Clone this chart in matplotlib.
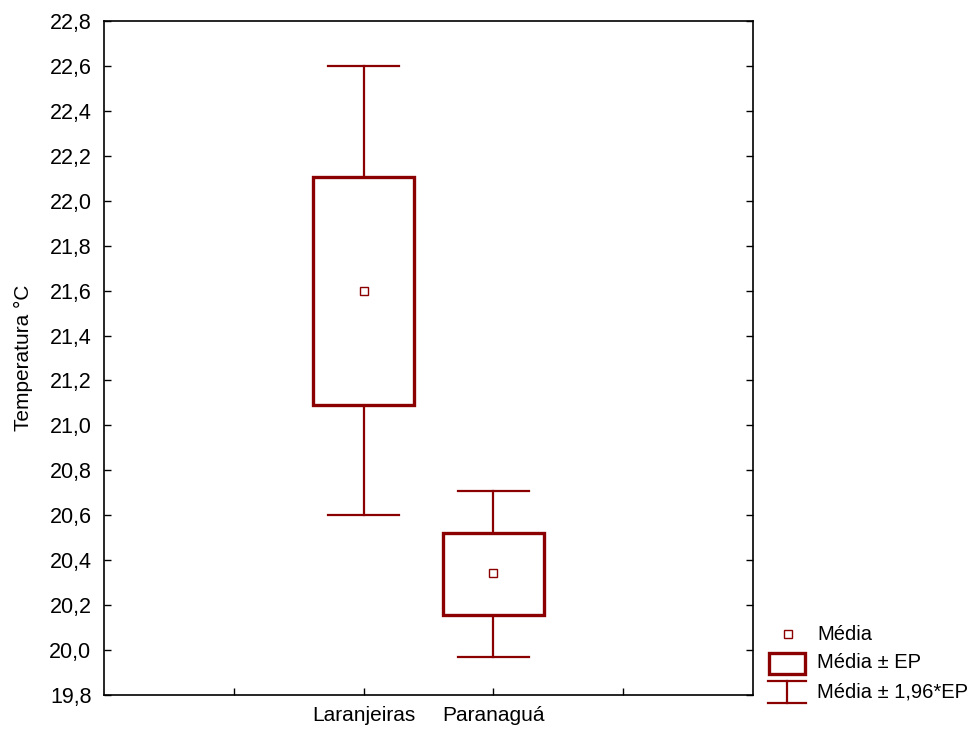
import matplotlib.pyplot as plt
from matplotlib.patches import Rectangle

plt.rcParams['font.family'] = ['Liberation Sans', 'DejaVu Sans']

# data
categories = ['Laranjeiras', 'Paranaguá']
means = [21.60, 20.343]
ep_low = [21.092, 20.156]
ep_high = [22.105, 20.522]
ci_low = [20.600, 19.970]
ci_high = [22.600, 20.710]

red = '#8B0000'

fig = plt.figure(figsize=(9.75, 7.31), dpi=100)
fig.patch.set_facecolor('white')
ax = fig.add_axes([104/975, 36/731, 649/975, 674/731])

positions = [1, 2]
box_w = 0.78
cap_w = 0.55
for x, m, lo, hi, clo, chi in zip(positions, means, ep_low, ep_high, ci_low, ci_high):
    # whiskers
    ax.plot([x, x], [hi, chi], color=red, lw=1.6, zorder=2)
    ax.plot([x, x], [clo, lo], color=red, lw=1.6, zorder=2)
    ax.plot([x - cap_w/2, x + cap_w/2], [chi, chi], color=red, lw=1.6, zorder=2)
    ax.plot([x - cap_w/2, x + cap_w/2], [clo, clo], color=red, lw=1.6, zorder=2)
    # box
    ax.add_patch(Rectangle((x - box_w/2, lo), box_w, hi - lo, facecolor='white',
                           edgecolor=red, lw=2.4, zorder=3))
    # mean
    ax.plot(x, m, marker='s', ms=5.5, mfc='white', mec=red, mew=1.0, zorder=4)

ax.set_xlim(-1, 4)
ax.set_ylim(19.8, 22.8)
ax.set_xticks([0, 1, 2, 3])
ax.set_xticklabels(['', categories[0], categories[1], ''], fontsize=15)
yt = [19.8 + 0.2*i for i in range(16)]
ax.set_yticks(yt)
ax.set_yticklabels([f'{v:.1f}'.replace('.', ',') for v in yt], fontsize=15.5)
ax.tick_params(axis='both', direction='in', length=5, width=1, colors='black')
ax.tick_params(axis='y', right=True, pad=9)
ax.tick_params(axis='x', pad=8)
for s in ax.spines.values():
    s.set_linewidth(1.2)
ax.set_ylabel('Temperatura °C', fontsize=15, labelpad=12)

# legend drawn by hand in pixel coords
lg = fig.add_axes([0, 0, 1, 1], facecolor='none')
lg.set_xlim(0, 975)
lg.set_ylim(731, 0)
lg.axis('off')
lg.plot(788, 634, marker='s', ms=5.5, mfc='white', mec=red, mew=1.0)
lg.add_patch(Rectangle((769, 653), 36, 21, facecolor='white', edgecolor=red, lw=2.4))
lg.plot([768, 806], [681, 681], color=red, lw=1.6)
lg.plot([768, 806], [703, 703], color=red, lw=1.6)
lg.plot([787, 787], [681, 703], color=red, lw=1.6)
lg.text(817, 634, 'Média', fontsize=14.5, va='center')
lg.text(817, 663, 'Média ± EP', fontsize=14.5, va='center')
lg.text(817, 692, 'Média ± 1,96*EP', fontsize=14.5, va='center')

plt.savefig('out.png', dpi=100, facecolor='white')
